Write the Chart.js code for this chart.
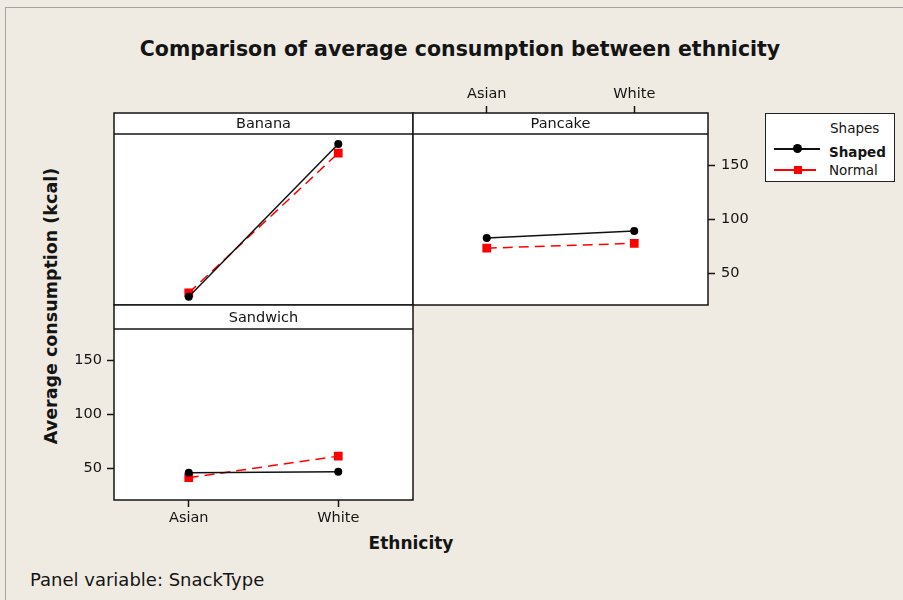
<!DOCTYPE html>
<html>
<head>
<meta charset="utf-8">
<script src="https://cdn.jsdelivr.net/npm/chart.js"></script>
<style>
  body { margin: 0; background: #efebe2; font-family: "DejaVu Sans", sans-serif; color: #141414; }
  #page { position: relative; width: 903px; height: 600px; overflow: hidden; }
  #frame { position: absolute; left: 5px; top: 7px; width: 940px; height: 640px; border: 1.5px solid #a3a3a3; }
  canvas { position: absolute; }
  .txt { position: absolute; white-space: nowrap; }
  #title { left: 0; width: 920px; top: 37px; text-align: center; font-weight: bold; font-size: 20.5px; }
  #ytitle { left: 51px; top: 306px; font-weight: bold; font-size: 17.5px; transform: translate(-50%, -50%) rotate(-90deg); }
  #xtitle { left: 411px; top: 543px; font-weight: bold; font-size: 17px; transform: translate(-50%, -50%); }
  #panelvar { left: 30px; top: 569px; font-size: 18px; }
  #legend { position: absolute; left: 765px; top: 113px; width: 128px; height: 67px; border: 1.5px solid #222; background: #fff; }
  #legend .txt { font-size: 13.5px; transform: translateY(-50%); }
</style>
</head>
<body>
<div id="page">
  <div id="frame"></div>
  <div id="title" class="txt">Comparison of average consumption between ethnicity</div>
  <div id="ytitle" class="txt">Average consumption (kcal)</div>
  <div id="xtitle" class="txt">Ethnicity</div>
  <div id="panelvar" class="txt">Panel variable: SnackType</div>

  <canvas id="banana" width="303" height="196" style="left:112px; top:111px"></canvas>
  <canvas id="pancake" width="342" height="222" style="left:411px; top:85px"></canvas>
  <canvas id="sandwich" width="346" height="227" style="left:69px; top:303px"></canvas>

  <div id="legend">
    <div class="txt" style="left:64px; top:14px">Shapes</div>
    <div style="position:absolute; left:8px; top:34px; width:46px; height:1.5px; background:#111"></div>
    <div style="position:absolute; left:27px; top:30px; width:9px; height:9px; border-radius:50%; background:#000"></div>
    <div class="txt" style="left:63px; top:38px; font-weight:bold">Shaped</div>
    <div style="position:absolute; left:8px; top:55px; width:42px; height:1.5px; background:#f00"></div>
    <div style="position:absolute; left:28px; top:52px; width:8px; height:8px; background:#f00"></div>
    <div class="txt" style="left:63px; top:56px">Normal</div>
  </div>
</div>

<script>
// Data
const categories = ["Asian", "White"];
const yTicks = [50, 100, 150];

const bananaShaped = [28, 169.5];
const bananaNormal = [31.5, 161];
const pancakeShaped = [82.5, 89];
const pancakeNormal = [73, 77.5];
const sandwichShaped = [45.5, 46.5];
const sandwichNormal = [41, 61];

const ink = "#141414";
const font = { family: "DejaVu Sans", size: 14.5 };

// Panel box + header strip
const panelPlugin = {
  id: "panel",
  beforeDraw(chart, args, opts) {
    const { ctx, chartArea: a } = chart;
    ctx.save();
    ctx.fillStyle = "#fff";
    ctx.fillRect(a.left, a.top, a.right - a.left, a.bottom - a.top);
    ctx.restore();
  },
  beforeDatasetsDraw(chart, args, opts) {
    const { ctx, chartArea: a } = chart;
    ctx.save();
    ctx.strokeStyle = ink;
    ctx.lineWidth = 1.5;
    ctx.beginPath();
    ctx.moveTo(a.left, a.top + opts.strip);
    ctx.lineTo(a.right, a.top + opts.strip);
    ctx.stroke();
    ctx.fillStyle = ink;
    ctx.font = "14.5px 'DejaVu Sans'";
    ctx.textAlign = "center";
    ctx.textBaseline = "middle";
    ctx.fillText(opts.title, (a.left + a.right) / 2, a.top + opts.strip / 2 + 1);
    ctx.restore();
  },
  afterDatasetsDraw(chart) {
    const { ctx, chartArea: a } = chart;
    ctx.save();
    ctx.strokeStyle = ink;
    ctx.lineWidth = 1.5;
    ctx.strokeRect(a.left, a.top, a.right - a.left, a.bottom - a.top);
    ctx.restore();
  }
};

function datasets(shaped, normal) {
  return [
    {
      label: "Shaped", data: shaped,
      borderColor: "#111", backgroundColor: "#000", borderWidth: 1.5,
      pointStyle: "circle", pointRadius: 4, pointBorderWidth: 0
    },
    {
      label: "Normal", data: normal,
      borderColor: "#f00", backgroundColor: "#f00", borderWidth: 1.5,
      borderDash: [10, 6],
      pointStyle: "rect", pointRadius: 6.2, pointBorderWidth: 0
    }
  ];
}

function xScale(show, position, height) {
  return {
    type: "category", offset: true, display: show, position: position,
    afterFit: s => { s.height = height; s.paddingLeft = 0; s.paddingRight = 0; },
    grid: { drawOnChartArea: false, tickLength: 7, tickColor: ink, tickWidth: 1.5 },
    border: { display: false },
    ticks: { color: ink, font: font, padding: 3, maxRotation: 0 }
  };
}

function yScale(show, position, width, min, max, pad) {
  return {
    type: "linear", display: show, position: position, min: min, max: max,
    afterBuildTicks: s => { s.ticks = yTicks.map(v => ({ value: v })); },
    afterFit: s => { s.width = width; s.paddingTop = 0; s.paddingBottom = 0; },
    grid: { drawOnChartArea: false, tickLength: 7, tickColor: ink, tickWidth: 1.5 },
    border: { display: false },
    ticks: { color: ink, font: font, padding: pad }
  };
}

function makePanel(id, title, strip, shaped, normal, x, y, padding) {
  new Chart(document.getElementById(id), {
    type: "line",
    data: { labels: categories, datasets: datasets(shaped, normal) },
    options: {
      responsive: false,
      animation: false,
      layout: { padding: padding, autoPadding: false },
      plugins: {
        legend: { display: false },
        tooltip: { enabled: false },
        panel: { title: title, strip: strip }
      },
      scales: { x: x, y: y }
    },
    plugins: [panelPlugin]
  });
}

// Top row: plot area 113..305 incl. 21px strip, 1.08 px per kcal
const topMin = 100 - 86 / 1.08, topMax = 100 + 106 / 1.08;
// Bottom row: plot area 305..500 incl. 24px strip
const botMin = 100 - 86 / 1.08, botMax = 100 + 109 / 1.08;

makePanel("banana", "Banana", 21, bananaShaped, bananaNormal,
  xScale(false, "bottom", 0), yScale(false, "left", 0, topMin, topMax, 5), 2);

makePanel("pancake", "Pancake", 21, pancakeShaped, pancakeNormal,
  xScale(true, "top", 28), yScale(true, "right", 45, topMin, topMax, 6),
  { left: 2, bottom: 2, top: 0, right: 0 });

makePanel("sandwich", "Sandwich", 24, sandwichShaped, sandwichNormal,
  xScale(true, "bottom", 30), yScale(true, "left", 45, botMin, botMax, 5),
  { top: 2, right: 2, left: 0, bottom: 0 });
</script>
</body>
</html>
